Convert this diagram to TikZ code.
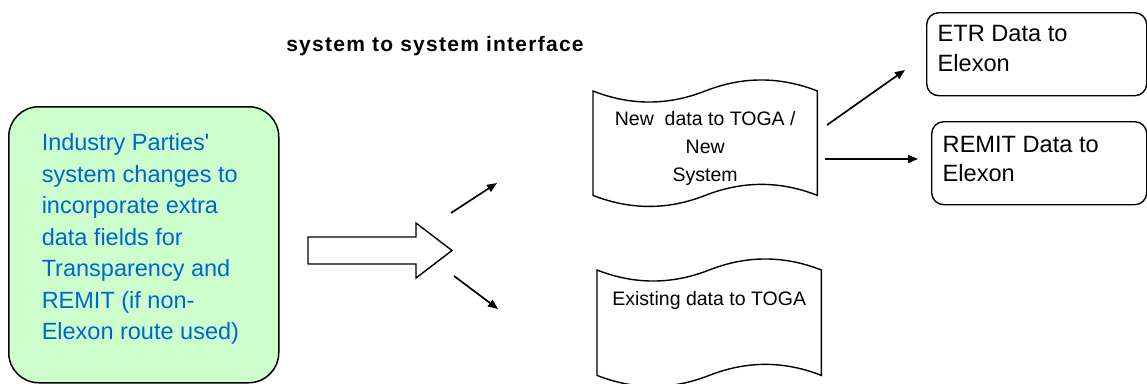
\documentclass[tikz,border=0pt]{standalone}
\usepackage{fontspec}
\setmainfont{Liberation Sans}
\newfontfamily\titlefont[LetterSpace=6]{Liberation Sans}
\usetikzlibrary{arrows.meta,calc}
\definecolor{greenfill}{HTML}{CCFFCC}
\definecolor{textblue}{HTML}{0066CC}
\newcommand{\tapeoutline}[1]{%
  \draw[tapeline] (#1.north west)
    .. controls ($(#1.north west)+(37.3,14.7)$) and ($(#1.north west)+(74.7,14.7)$) .. (#1.north)
    .. controls ($(#1.north)+(37.3,-14.7)$) and ($(#1.north)+(74.7,-14.7)$) .. (#1.north east)
    -- (#1.south east)
    .. controls ($(#1.south east)+(-37.3,-14.7)$) and ($(#1.south east)+(-74.7,-14.7)$) .. (#1.south)
    .. controls ($(#1.south)+(-37.3,14.7)$) and ($(#1.south)+(-74.7,14.7)$) .. (#1.south west)
    -- cycle;}
\begin{document}
\begin{tikzpicture}[x=1pt,y=-1pt,
  titlestyle/.style={font=\titlefont\bfseries\fontsize{21pt}{25pt}\selectfont, inner sep=0pt},
  greenbox/.style={draw, line width=1.5pt, fill=greenfill, rounded corners=30pt,
    text=textblue, font=\fontsize{23.5pt}{31.5pt}\selectfont, inner sep=0pt,
    minimum width=270pt, anchor=north west},
  databox/.style={draw, line width=1.4pt, rounded corners=12pt,
    font=\fontsize{23.6pt}{29.5pt}\selectfont, inner ysep=0pt, inner xsep=11pt, anchor=north west},
  tapebox/.style={inner sep=0pt, minimum width=224pt, anchor=north west,
    font=\fontsize{19.5pt}{28pt}\selectfont},
  tapeline/.style={line width=1.4pt},
  conn/.style={line width=1.7pt, -{Triangle[length=10pt,width=8pt]}},
  blockarrow/.style={line width=1.4pt, fill=white}
]
\useasboundingbox (0,0) rectangle (1147,383);

\node[titlestyle] (title) at (435,46) {system to system interface};

\node[greenbox, text height=44pt, text depth=232pt] (ind) at (8,106)
  {\begin{tabular}[t]{@{}p{204pt}@{}}Industry Parties\textquotesingle\\system changes to\\incorporate extra\\data fields for\\Transparency and\\REMIT (if non-\\Elexon route used)\end{tabular}};

\node[tapebox, text height=34pt, text depth=70pt] (newdata) at (593,91)
  {\begin{tabular}[t]{@{}c@{}}New\ \ data to TOGA /\\New\\System\end{tabular}};
\tapeoutline{newdata}

\node[tapebox, text height=35pt, text depth=70pt] (existing) at (597,270)
  {Existing data to TOGA};
\tapeoutline{existing}

\node[databox, text height=29pt, text depth=54pt] (etr) at (926,12)
  {\begin{tabular}[t]{@{}p{198pt}@{}}ETR Data to\\Elexon\end{tabular}};

\node[databox, text height=30.5pt, text depth=52.5pt] (remit) at (931,121)
  {\begin{tabular}[t]{@{}p{193pt}@{}}REMIT Data to\\Elexon\end{tabular}};

% block arrow
\coordinate (ba) at (308,250.5);
\draw[blockarrow] ($(ba)+(0,-13.5)$) -- ++(108,0) -- ++(0,-14) -- ($(ba)+(144,0)$)
  -- ($(ba)+(108,27.5)$) -- ++(0,-14) -- ($(ba)+(0,13.5)$) -- cycle;

% small arrows
\coordinate (u1) at (451,213); \coordinate (u2) at (497,183);
\coordinate (d1) at (454,276); \coordinate (d2) at (498,309);
\coordinate (e1) at (827,125); \coordinate (e2) at (905,70);
\coordinate (r1) at (825,159); \coordinate (r2) at (918,159);
\draw[conn] (u1) -- (u2);
\draw[conn] (d1) -- (d2);
\draw[conn] (e1) -- (e2);
\draw[conn] (r1) -- (r2);
\end{tikzpicture}
\end{document}
